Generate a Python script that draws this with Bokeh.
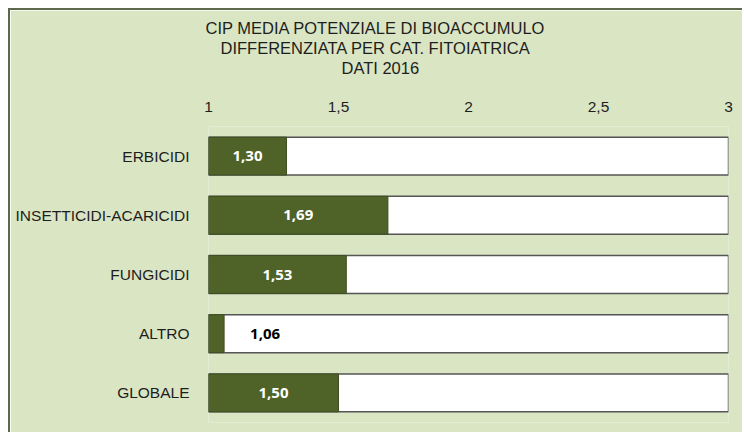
from bokeh.plotting import figure
from bokeh.models import FactorRange, Range1d, FixedTicker, CustomJSTickFormatter, ColumnDataSource, Title
from bokeh.core.properties import value
from bokeh.embed import file_html
from bokeh.resources import INLINE

# ---- data ----
categories = ["ERBICIDI", "INSETTICIDI-ACARICIDI", "FUNGICIDI", "ALTRO", "GLOBALE"]
cip_values = [1.30, 1.69, 1.53, 1.06, 1.50]
axis_min = 1
axis_max = 3
x_ticks = [1, 1.5, 2, 2.5, 3]
title_lines = ["CIP MEDIA POTENZIALE DI BIOACCUMULO",
               "DIFFERENZIATA PER CAT. FITOIATRICA",
               "DATI  2016"]

BG = "#d9e5c3"
BAR = "#4f6228"
FRAME = "#5a6a4a"
TXT = "#1e1e1e"

W, H = 734, 424

p = figure(width=W, height=H, output_backend="svg", toolbar_location=None,
           y_range=FactorRange(factors=categories[::-1]),
           x_range=Range1d(axis_min, axis_max),
           x_axis_location="above",
           min_border_left=198, min_border_right=16,
           min_border_bottom=12, min_border_top=116)
p.margin = (8, 0, 0, 8)
p.styles = {"border-top": f"2px solid {FRAME}", "border-left": f"2px solid {FRAME}"}

p.background_fill_color = BG
p.border_fill_color = BG
p.outline_line_color = None
p.grid.visible = False

# title lines (closest to the axis first), left aligned with pixel offsets
title_offsets = [-3, 12, 133]
for line, off in list(zip(title_lines, title_offsets))[::-1]:
    p.add_layout(Title(text=line, align="left", offset=off, standoff=0,
                       text_font="Liberation Sans", text_font_size="16.5px",
                       text_line_height=0.9,
                       text_font_style="normal", text_color=TXT), "above")

src = ColumnDataSource(dict(
    cat=categories,
    val=cip_values,
    lo=[axis_min] * len(categories),
    hi=[axis_max] * len(categories),
))

p.hbar(y="cat", left="lo", right="hi", height=0.64, source=src,
       fill_color="white", line_color="#555555", line_width=1.5)
p.hbar(y="cat", left="lo", right="val", height=0.64, source=src,
       fill_color=BAR, line_color="#3f4f22", line_width=1)

# value labels: inside (white) for wide bars, outside (black) for narrow bars
wide = [i for i, v in enumerate(cip_values) if v - axis_min > 0.15]
narrow = [i for i, v in enumerate(cip_values) if v - axis_min <= 0.15]
src_w = ColumnDataSource(dict(cat=[categories[i] for i in wide],
                              x=[(axis_min + cip_values[i]) / 2 for i in wide],
                              lab=[f"{cip_values[i]:.2f}".replace(".", ",") for i in wide]))
src_n = ColumnDataSource(dict(cat=[categories[i] for i in narrow],
                              x=[cip_values[i] for i in narrow],
                              lab=[f"{cip_values[i]:.2f}".replace(".", ",") for i in narrow]))
p.text(x="x", y="cat", text="lab", source=src_w, text_align="center", text_baseline="middle",
       text_font=value("Open Sans"), text_font_style="bold", text_font_size="15px",
       text_color="white")
p.text(x="x", y="cat", text="lab", source=src_n, text_align="left", text_baseline="middle",
       x_offset=26, text_font=value("Open Sans"), text_font_style="bold",
       text_font_size="15px", text_color="black")

# axes
xa = p.xaxis[0]
xa.ticker = FixedTicker(ticks=x_ticks)
xa.formatter = CustomJSTickFormatter(code="return tick.toString().replace('.', ',');")
xa.axis_line_color = None
xa.major_tick_line_color = None
xa.minor_tick_line_color = None
xa.major_label_standoff = 9
xa.major_label_text_font = "Liberation Sans"
xa.major_label_text_font_size = "15.5px"
xa.major_label_text_color = TXT
xa.axis_label = " "
xa.axis_label_text_font_size = "12px"
xa.axis_label_standoff = 5

ya = p.yaxis[0]
ya.axis_line_color = None
ya.major_tick_line_color = None
ya.minor_tick_line_color = None
ya.major_label_standoff = 13
ya.major_label_text_font = "Liberation Sans"
ya.major_label_text_font_size = "15.5px"
ya.major_label_text_color = TXT

open("out.html", "w").write(file_html(p, INLINE))
